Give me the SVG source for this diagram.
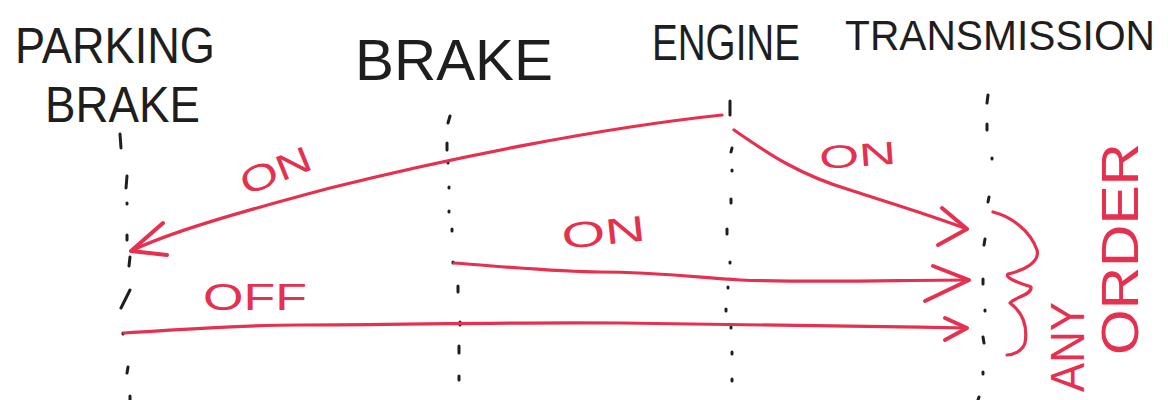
<svg xmlns="http://www.w3.org/2000/svg" width="1168" height="400" viewBox="0 0 1168 400">
  <style>
    .head { font-family: "Liberation Sans", "DejaVu Sans", sans-serif; fill: #1e1e1e; }
    .life { stroke: #1e1e1e; stroke-width: 3; stroke-linecap: round; fill: none; }
    .msg { stroke: #e5304f; stroke-width: 3.2; fill: none; stroke-linecap: round; stroke-linejoin: round; }
    .tip { stroke: #e5304f; stroke-width: 4; fill: none; stroke-linecap: round; stroke-linejoin: round; }
    .lbl { font-family: "Liberation Sans", "DejaVu Sans", sans-serif; fill: #e5304f; }
  </style>
  <rect width="1168" height="400" fill="#ffffff"/>

  <!-- Parking brake lifeline -->
  <g id="parking-brake">
    <text class="head" x="15" y="63" font-size="50" textLength="200" lengthAdjust="spacingAndGlyphs">PARKING</text>
    <text class="head" x="45" y="122" font-size="50" textLength="155" lengthAdjust="spacingAndGlyphs">BRAKE</text>
    <path class="life" d="M120,134 L121,148 M127,176 L126,188 M127,203 L127,204 M127,235 L127,240 M130,257 L129,266 M130,290 L121,308 M123,333 L123,334 M128,367 L127,373 M130,396 L130,400"/>
  </g>

  <!-- Brake lifeline -->
  <g id="brake">
    <text class="head" x="355" y="80" font-size="58" textLength="198" lengthAdjust="spacingAndGlyphs">BRAKE</text>
    <path class="life" d="M450,116 L448,123 M447,143 L447,150 M448,162 L448,163 M449,187 L449,188 M449,211 L449,212 M452,229 L452,231 M453,262 L453,263 M458,286 L458,292 M460,322 L460,325 M459,346 L459,353 M459,376 L459,380"/>
  </g>

  <!-- Engine lifeline -->
  <g id="engine">
    <text class="head" x="652" y="60" font-size="50" textLength="148" lengthAdjust="spacingAndGlyphs">ENGINE</text>
    <path class="life" d="M730,101 L730,115 M732,148 L731,152 M732,170 L732,171 M731,199 L731,203 M727,229 L727,234 M730,262 L730,263 M728,287 L728,288 M726,309 L726,311 M731,327 L731,328 M732,352 L732,354 M732,379 L732,381"/>
  </g>

  <!-- Transmission lifeline -->
  <g id="transmission">
    <text class="head" x="845" y="50" font-size="42" textLength="310" lengthAdjust="spacingAndGlyphs">TRANSMISSION</text>
    <path class="life" d="M988,95 L987,103 M987,124 L987,130 M992,158 L992,159 M989,197 L988,202 M985,239 L984,245 M983,279 L983,284 M985,310 L985,311 M983,337 L984,343 M983,372 L983,374 M979,397 L978,400"/>
  </g>

  <!-- Messages -->
  <g id="connectors">
    <!-- engine -> parking brake -->
    <path class="msg" d="M722,115 C 600,128 450,158 330,188 C 240,212 170,232 131,251"/>
    <path class="tip" d="M163,223 L131,251 L167,255" stroke="#d81634" stroke-width="6"/>
    <!-- engine -> transmission -->
    <path class="msg" d="M734,130 C 770,155 800,175 850,190 C 890,203 930,215 967,229"/>
    <path class="tip" d="M942,208 L967,229 L938,245"/>
    <!-- brake -> transmission -->
    <path class="msg" d="M454,263 C 520,268 560,272 600,272 C 660,272 700,278 740,280 C 820,283 900,280 969,280"/>
    <path class="tip" d="M933,266 L969,280 L925,301"/>
    <!-- parking brake -> transmission -->
    <path class="msg" d="M124,333 C 180,330 230,325 300,325 C 400,325 500,322 620,323 C 760,324 860,326 967,328"/>
    <path class="tip" d="M945,318 L967,328 L945,340"/>

    <text class="lbl" x="0" y="0" font-size="36" textLength="74" lengthAdjust="spacingAndGlyphs" transform="translate(246,196) rotate(-22)">ON</text>
    <text class="lbl" x="0" y="0" font-size="32" textLength="77" lengthAdjust="spacingAndGlyphs" transform="translate(820,169) rotate(-4)">ON</text>
    <text class="lbl" x="0" y="0" font-size="36" textLength="84" lengthAdjust="spacingAndGlyphs" transform="translate(563,249) rotate(-6)">ON</text>
    <text class="lbl" x="203" y="310" font-size="36" textLength="104" lengthAdjust="spacingAndGlyphs">OFF</text>
  </g>

  <!-- Order note -->
  <g id="any-order">
    <path class="msg" stroke-width="4" d="M993,212 C 1010,216 1030,230 1037,250 C 1040,262 1025,270 1008,274 C 1004,278 1020,283 1031,287 C 1032,295 1015,297 1010,303 C 1022,312 1028,325 1025,343 C 1022,352 1012,355 1007,355"/>
    <text class="lbl" x="0" y="0" font-size="48" textLength="90" lengthAdjust="spacingAndGlyphs" transform="translate(1084,392) rotate(-90)">ANY</text>
    <text class="lbl" x="0" y="0" font-size="52" textLength="212" lengthAdjust="spacingAndGlyphs" transform="translate(1138,355) rotate(-90)">ORDER</text>
  </g>
</svg>
